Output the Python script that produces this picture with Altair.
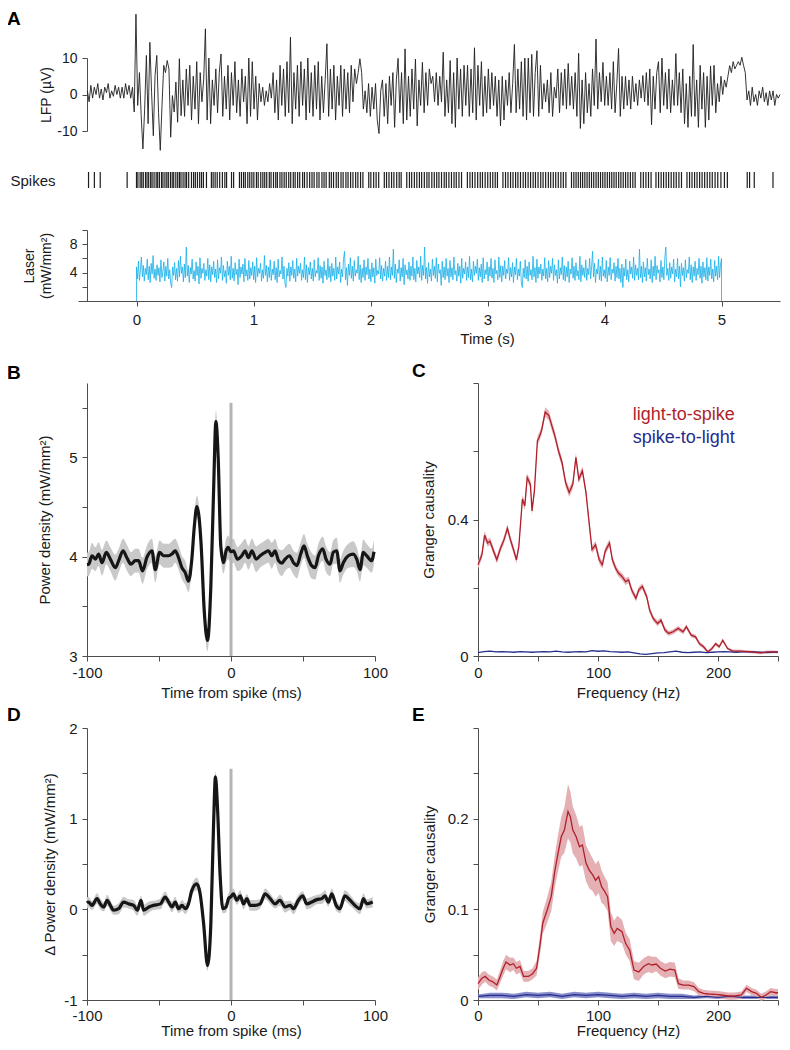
import altair as alt
import pandas as pd

# ---------------------------------------------------------------- data
# Panel A - LFP trace (µV), evenly sampled from -0.42 s to 5.5 s
LFP = [
    1, -2, 2.5, -1, 2, 0, 3, -1, 1.5, -1.5, 2, 0.5, 3, -1, 1, -0.5, 2.5, 0, 2, -1,
    2, -1, 3, 0, 2.5, -1, 2, -4.8, 22, -3, 6, -5.8, -14.9, -4, 10.7, -8, 14.3, 0.6, -11.3, 5.2,
    10.7, -5, -15.3, -3, 8, 6, 9.3, 7, -11.7, -0.3, -4.8, 3.4, -7.6, 9.8, -5.8, 4, -6, 7, -3, 8,
    -7, 5, -4, 9, -8, 6, -2, 4, 18, -7, 10, -8, 4, -3, 7, -5, 6, 11.1, -6, 5,
    -4, 8, -7, 6, -3, 9, -5, 4, -6, 7, -2, 5, -8, 10, -6, 9, -4, 5, -7, 3,
    -2, 2, -3, 1, -2, 3, -1, 6, -5, 4, -7, 8, -3, 7, -6, 9, -5, 15.7, -8, 6,
    -4, 8, -6, 9, -3, 7, -7, 10, -5, 6, -6, 8, -4, 9, -7, 5, -5, 4, 13.9, -6,
    7, -4, 8, -7, 5, -3, 8, -6, 7, -4, 6, -5, 8, -2, 7, 3, 6, 9.8, 6, -4,
    1, -5, 3, -6, 2, -4, 3, -7, -10.7, 1, 4, -6, 3, -8, 5, -3, 6, -9, 4, 9.9,
    -5, 6, -8, 12.5, -7, 5, -6, 7, -4, 9.7, -8.6, 4, -3, 8.8, -5, 6, -3, 7, 3, 5,
    -2, 6, -3, 5, -2, 11.6, -6, 4, -5, 9.3, -8, 6, -9, 10, -4, 7, -6, 8, -3, 8,
    -6, 7, -5, 12.8, -7, 8, -3, 9, -6, 5, -5, 7, -4, 6, -3, 5, -6, 4, -8.6, 5,
    -7, 4, -3, 6, -5, 3, 13.7, -5, 7, -4, 9, -6, 10, -7, 10, -5, 11, -6, 6, 12,
    -6, 8, -4, 3, -2, 4, -5, 6, -6, 2, -1, 7, -5, 6, -3, 7, -4, 8.5, -3, 5,
    -4, 6, -6, 11.3, -9.3, 4, -8, 6, -5, 3, -6, 7, -3, 15.2, -4, 6, -2, 8.8, -3, 5,
    -3, 6, -4, 9, -5, 3, 12.6, -6, 5, -4, 5, -3, 4, -4, 5, -2, 3, -3, 4, -1,
    5.2, -2, 6, -3, 7, -8.3, 5, -4, 6, 9, -5, 10, -3, 6, -4, 7, -5, 4, -3, 11.2,
    -3, 6, -5, 7, -8, 3, -9, 5, -6, 13.7, -6, 4, -9, 8, -4, 6, -9, 5, -7, 7.8,
    -3, 8, -5, 3, -2, 5, 0, 4, 2, 5, 7.9, 6, 9, 7, 8, 9, 8, 10.2, 8, 6,
    -1.5, 1, -3, 2, -2, 0, -3, 1, -1, 2, -2, 0.5, -3, 1, -1.5, 1, -3, 0, -1, 0,
]
LFP_START, LFP_END = -0.42, 5.5

# Panel A - spike times (s)
SPIKES = [
    -0.41, -0.36, -0.31, -0.08,
    0.000, 0.012, 0.031, 0.045, 0.058, 0.077, 0.090, 0.104, 0.121, 0.133, 0.150, 0.168,
    0.181, 0.196, 0.214, 0.226, 0.243, 0.259, 0.272, 0.290, 0.305, 0.318, 0.336, 0.352,
    0.367, 0.380, 0.398, 0.415, 0.428, 0.446, 0.470, 0.488, 0.503, 0.521, 0.540, 0.556,
    0.572, 0.598, 0.640, 0.655, 0.672, 0.690, 0.711, 0.734, 0.755, 0.770, 0.812, 0.830,
    0.880, 0.897, 0.915, 0.930, 0.951, 0.968, 0.986, 1.003, 1.025, 1.040, 1.062, 1.080,
    1.096, 1.113, 1.135, 1.150, 1.171, 1.190, 1.204, 1.226, 1.243, 1.262, 1.280, 1.301,
    1.318, 1.340, 1.356, 1.377, 1.395, 1.420, 1.436, 1.458, 1.480, 1.500, 1.518, 1.542,
    1.560, 1.585, 1.603, 1.621, 1.648, 1.665, 1.684, 1.707, 1.725, 1.748, 1.766, 1.790,
    1.808, 1.830, 1.850, 1.873, 1.892, 1.915, 1.935, 1.985, 2.003, 2.027, 2.048, 2.070,
    2.118, 2.137, 2.158, 2.180, 2.200, 2.224, 2.245, 2.262, 2.310, 2.333, 2.352, 2.375,
    2.396, 2.418, 2.437, 2.460, 2.482, 2.500, 2.524, 2.545, 2.566, 2.585, 2.607, 2.630,
    2.648, 2.670, 2.692, 2.714, 2.733, 2.756, 2.778, 2.828, 2.850, 2.871, 2.893, 2.916,
    2.938, 2.957, 2.980, 3.002, 3.024, 3.045, 3.066, 3.085, 3.132, 3.154, 3.175, 3.197,
    3.218, 3.240, 3.260, 3.282, 3.305, 3.325, 3.347, 3.368, 3.390, 3.410, 3.432, 3.455,
    3.475, 3.497, 3.520, 3.540, 3.562, 3.583, 3.605, 3.627, 3.648, 3.670, 3.718, 3.738,
    3.757, 3.776, 3.795, 3.813, 3.832, 3.851, 3.870, 3.889, 3.908, 3.928, 3.947, 3.966,
    3.985, 4.004, 4.024, 4.043, 4.062, 4.081, 4.100, 4.121, 4.140, 4.160, 4.180, 4.200,
    4.221, 4.242, 4.262, 4.310, 4.332, 4.354, 4.376, 4.398, 4.440, 4.462, 4.484, 4.505,
    4.527, 4.548, 4.570, 4.592, 4.613, 4.636, 4.658, 4.705, 4.727, 4.748, 4.770, 4.791,
    4.813, 4.834, 4.856, 4.878, 4.900, 4.921, 4.945, 4.968, 4.995, 5.025, 5.050,
    5.22, 5.24, 5.28, 5.44,
]

# Panel A - laser power density (mW/mm²), evenly sampled 0-5 s
LASER = [
    4.8, 3.1, 5.6, 2.9, 4.4, 6.2, 3.4, 5.0, 2.8, 4.6, 3.7, 5.9, 3.0, 4.9, 2.6, 5.3, 3.8, 6.4, 3.2, 4.5,
    2.9, 5.1, 3.6, 4.7, 2.7, 5.8, 3.3, 4.2, 5.5, 2.8, 4.9, 3.5, 6.0, 3.1, 4.4, 2.5, 1.9, 4.8, 3.6, 5.4,
    3.0, 4.6, 2.8, 5.7, 3.4, 6.3, 3.9, 4.8, 2.7, 5.2, 3.3, 7.6, 3.5, 5.0, 2.6, 4.7, 3.8, 5.9, 3.1, 4.3,
    2.8, 5.5, 3.6, 4.9, 2.4, 6.1, 3.2, 4.6, 3.9, 5.3, 2.9, 4.4, 3.5, 6.0, 3.0, 5.1, 2.7, 4.8, 3.7, 5.6,
    3.3, 4.5, 2.6, 5.8, 3.1, 4.7, 3.9, 6.2, 2.9, 5.0, 3.4, 4.3, 2.5, 5.6, 3.6, 4.9, 3.0, 6.3, 3.2, 4.6,
    2.8, 5.4, 3.7, 4.5, 2.3, 5.9, 3.3, 4.8, 3.8, 5.2, 2.7, 6.0, 3.5, 4.4, 2.9, 5.7, 3.1, 4.7, 3.6, 5.5,
    3.0, 4.9, 2.6, 6.1, 3.4, 4.6, 3.9, 5.3, 2.8, 4.4, 3.2, 6.4, 3.6, 5.0, 2.7, 4.8, 3.3, 5.8, 2.9, 4.5,
    3.7, 5.6, 3.0, 4.7, 2.6, 5.9, 3.4, 4.3, 3.8, 6.2, 3.1, 4.9, 2.5, 1.9, 4.6, 3.5, 5.4, 2.8, 4.8, 3.6,
    5.7, 3.2, 4.5, 2.7, 6.0, 3.5, 4.9, 3.9, 5.3, 2.9, 4.4, 3.3, 6.2, 3.0, 5.1, 2.6, 4.7, 3.7, 5.5, 3.1,
    4.6, 2.8, 5.8, 3.4, 4.3, 3.9, 6.1, 2.9, 5.0, 3.2, 4.8, 2.5, 5.6, 3.6, 4.4, 3.0, 6.0, 3.3, 4.9, 2.7,
    5.3, 3.5, 4.6, 2.9, 6.2, 3.1, 4.8, 3.8, 5.5, 2.6, 4.5, 3.4, 5.9, 7.0, 3.0, 4.7, 2.2, 5.2, 3.6, 6.1,
    3.2, 4.9, 2.8, 5.7, 3.5, 4.4, 3.9, 6.3, 3.0, 5.1, 2.6, 4.6, 3.3, 5.8, 2.9, 4.8, 3.7, 6.0, 3.1, 4.5,
    2.7, 5.4, 3.4, 4.7, 2.5, 5.9, 3.6, 4.3, 3.8, 6.1, 3.1, 5.0, 2.8, 4.6, 3.5, 5.6, 2.9, 4.9, 3.3, 6.2,
    3.0, 4.8, 3.6, 7.3, 3.2, 5.2, 2.6, 4.5, 3.9, 5.8, 2.8, 4.7, 3.4, 6.0, 2.3, 5.1, 3.7, 4.4, 3.1, 5.5,
    2.9, 4.9, 3.5, 6.2, 3.0, 4.6, 2.7, 5.7, 3.8, 4.8, 3.3, 6.3, 2.9, 5.0, 3.6, 7.6, 3.1, 4.7, 2.5, 5.4,
    3.4, 4.5, 2.8, 5.9, 3.6, 4.9, 3.2, 6.1, 2.7, 5.2, 3.9, 4.4, 2.2, 5.6, 3.3, 4.8, 3.0, 6.0, 3.5, 4.6,
    2.6, 5.7, 3.4, 4.7, 3.0, 6.2, 3.7, 4.3, 2.8, 5.3, 3.5, 4.9, 2.5, 6.0, 3.2, 4.6, 3.8, 5.5, 2.9, 4.8,
    3.3, 6.3, 3.0, 4.5, 2.7, 5.6, 3.6, 4.9, 3.9, 5.9, 2.9, 4.7, 3.4, 5.2, 2.6, 6.1, 3.1, 4.4, 3.7, 5.5,
    2.8, 4.8, 3.5, 6.0, 3.2, 4.6, 2.6, 5.8, 3.8, 4.3, 3.0, 6.2, 3.3, 5.0, 2.7, 4.9, 3.6, 5.7, 3.1, 4.5,
    3.9, 6.1, 2.9, 4.7, 3.4, 5.4, 2.6, 4.8, 3.7, 6.0, 3.0, 4.5, 3.5, 5.6, 2.7, 1.9, 4.6, 3.3, 5.8, 3.1,
    4.9, 2.8, 5.5, 3.6, 4.4, 3.0, 6.3, 3.4, 4.7, 2.6, 5.9, 3.2, 4.8, 3.8, 5.2, 2.9, 4.5, 3.5, 6.1, 3.1,
    4.6, 2.7, 5.7, 3.3, 4.9, 3.9, 6.0, 2.9, 5.1, 3.6, 4.4, 2.5, 5.8, 3.1, 4.7, 3.7, 6.2, 3.0, 5.0, 2.8,
    4.8, 3.4, 5.6, 2.6, 4.5, 3.8, 6.1, 3.2, 4.9, 2.9, 5.4, 3.5, 4.3, 3.0, 6.3, 2.7, 5.1, 3.6, 4.7, 3.3,
    5.8, 2.9, 4.6, 3.7, 6.0, 3.1, 4.8, 7.0, 3.4, 5.3, 2.6, 4.5, 3.8, 5.9, 3.0, 4.9, 2.8, 6.2, 3.5, 4.4,
    3.2, 5.7, 2.7, 4.8, 3.6, 6.1, 3.0, 4.5, 3.9, 5.4, 2.8, 4.9, 3.3, 6.0, 3.1, 4.6, 2.6, 5.2, 1.9, 4.7,
    3.5, 5.9, 3.0, 4.4, 2.7, 5.6, 3.8, 4.8, 3.2, 6.2, 2.9, 5.1, 3.6, 4.6, 3.0, 7.3, 3.3, 4.9, 2.6, 5.5,
    3.4, 4.7, 2.8, 6.0, 3.7, 4.5, 3.1, 5.8, 2.6, 4.9, 3.5, 6.3, 3.0, 5.0, 3.9, 4.4, 2.7, 5.7, 3.3, 4.8,
    3.0, 6.1, 7.6, 3.6, 4.6, 2.9, 5.4, 3.2, 4.8, 3.8, 5.9, 2.7, 4.5, 3.4, 6.0, 3.1, 4.9, 2.0, 5.3, 3.6,
    4.7, 2.8, 5.8, 3.3, 4.4, 3.9, 6.2, 3.0, 5.1, 2.6, 4.8, 3.5, 5.6, 2.9, 4.6, 3.7, 6.0, 3.2, 4.9, 2.5,
    5.5, 3.4, 4.7, 3.0, 6.1, 2.8, 4.8, 3.6, 5.9, 3.1, 4.5, 2.7, 5.7, 3.5, 4.9, 3.0, 6.3, 3.3, 5.2, 6.0,
]
LASER_END = 5.0

# Panel B - spike-triggered average of light power
B_T = [-100, -98.8, -96.5, -94.2, -91.9, -89.6, -86.6, -83.8, -80.3, -78,
       -75, -72.3, -69.5, -66.5, -64.2, -61.4, -58.4, -54.9, -52.6, -49.6,
       -46.8, -43.4, -41, -38.7, -36.4, -34.1, -31.8, -29.5, -27.2, -25.5,
       -23.7, -22.2, -20.7, -18.6, -16.3, -14, -12.1, -10.5, -8.9, -7.1,
       -5.2, -3.4, -2, 0, 1.7, 4.5, 7.5, 9.8, 12.1, 14.5,
       17.5, 20.2, 23.7, 26, 28.3, 30.6, 33, 35.3, 37.6, 40.6,
       43.4, 45.7, 48.4, 50.7, 53, 56, 58.4, 60.7, 63.7, 66,
       68.8, 71, 73.4, 75.7, 78, 81.5, 85, 87.3, 89.6, 91.9,
       94.2, 97.7, 99.3]
B_V = [3.92, 3.925, 4.01, 3.976, 4.027, 3.94, 4.044, 3.976, 3.89, 3.96,
       4.06, 3.99, 3.925, 3.96, 3.96, 3.857, 3.993, 4.06, 3.87, 4.044,
       4.01, 4.01, 4.027, 4.06, 3.99, 3.89, 3.84, 3.754, 3.976, 4.3,
       4.505, 4.4, 4.11, 3.46, 3.157, 3.70, 4.66, 5.36, 5.0, 4.11,
       3.94, 4.06, 4.095, 4.05, 4.06, 3.976, 4.01, 4.06, 3.99, 4.06,
       3.976, 4.01, 4.044, 4.06, 4.01, 4.06, 3.96, 3.935, 3.976, 4.01,
       3.94, 3.91, 4.027, 4.11, 4.01, 3.91, 3.89, 4.01, 4.08, 3.976,
       3.925, 4.044, 4.06, 3.857, 3.94, 4.01, 4.027, 3.976, 3.87, 4.044,
       4.01, 3.96, 4.05]
B_SEM = [0.12, 0.12, 0.13, 0.12, 0.12, 0.13, 0.12, 0.12, 0.13, 0.12,
         0.12, 0.13, 0.12, 0.12, 0.12, 0.13, 0.12, 0.12, 0.13, 0.12,
         0.12, 0.12, 0.13, 0.12, 0.12, 0.12, 0.12, 0.11, 0.11, 0.11,
         0.11, 0.11, 0.11, 0.11, 0.11, 0.11, 0.11, 0.11, 0.11, 0.11,
         0.11, 0.12, 0.12, 0.12, 0.12, 0.12, 0.13, 0.12, 0.12, 0.12,
         0.13, 0.12, 0.12, 0.12, 0.13, 0.12, 0.12, 0.13, 0.12, 0.12,
         0.12, 0.13, 0.12, 0.12, 0.12, 0.13, 0.12, 0.12, 0.12, 0.13,
         0.12, 0.12, 0.13, 0.12, 0.12, 0.12, 0.13, 0.12, 0.12, 0.13,
         0.12, 0.12, 0.12]

# Panel C - Granger causality, single example
C_F = [0, 3.3, 5.5, 8, 10, 13, 15.7, 18.4, 21.7, 24.5,
       27, 30, 32, 34, 37, 39, 41, 43.7, 45, 47,
       49.5, 51, 53, 56, 59, 61.5, 64, 67, 70, 73,
       76, 79, 81.6, 84, 87, 90, 92.6, 95, 98, 101,
       103.6, 106, 109.6, 112, 114.6, 117, 120, 123, 125.5, 128,
       131.6, 134, 137, 140.6, 143, 146, 149.7, 152.5, 155.8, 159,
       162.6, 166.8, 170.9, 173.6, 177.7, 181.3, 184.6, 188, 191.5, 195,
       198, 201, 204, 208, 212, 219, 227, 235.4, 241, 247, 250]
C_RED = [0.267, 0.297, 0.354, 0.331, 0.336, 0.307, 0.282, 0.312, 0.341, 0.374,
         0.341, 0.307, 0.282, 0.32, 0.46, 0.44, 0.523, 0.503, 0.425, 0.484,
         0.631, 0.641, 0.661, 0.715, 0.705, 0.675, 0.646, 0.602, 0.567, 0.508,
         0.479, 0.503, 0.582, 0.518, 0.543, 0.479, 0.39, 0.312, 0.326, 0.282,
         0.267, 0.307, 0.331, 0.282, 0.258, 0.243, 0.233, 0.218, 0.223, 0.194,
         0.169, 0.194, 0.204, 0.174, 0.135, 0.11, 0.095, 0.105, 0.076, 0.066,
         0.071, 0.081, 0.071, 0.086, 0.061, 0.056, 0.036, 0.027, 0.012, 0.022,
         0.036, 0.027, 0.046, 0.022, 0.015, 0.014, 0.012, 0.009, 0.012, 0.012, 0.011]
C_SEM = [0.012, 0.012, 0.012, 0.011, 0.011, 0.011, 0.011, 0.011, 0.011, 0.012,
         0.011, 0.011, 0.011, 0.011, 0.012, 0.012, 0.012, 0.012, 0.012, 0.012,
         0.013, 0.013, 0.013, 0.014, 0.014, 0.014, 0.013, 0.013, 0.013, 0.013,
         0.013, 0.013, 0.013, 0.012, 0.012, 0.012, 0.012, 0.011, 0.011, 0.011,
         0.011, 0.011, 0.011, 0.010, 0.010, 0.010, 0.010, 0.010, 0.010, 0.010,
         0.009, 0.009, 0.009, 0.009, 0.009, 0.008, 0.008, 0.008, 0.008, 0.007,
         0.007, 0.007, 0.007, 0.007, 0.006, 0.006, 0.006, 0.006, 0.005, 0.005,
         0.005, 0.005, 0.005, 0.004, 0.004, 0.004, 0.004, 0.004, 0.004, 0.004, 0.004]
C_BLUE_F = list(range(0, 251, 5))
C_BLUE = [0.010, 0.013, 0.014, 0.012, 0.013, 0.012, 0.011, 0.013, 0.012, 0.011,
          0.012, 0.013, 0.012, 0.014, 0.012, 0.011, 0.012, 0.013, 0.012, 0.016,
          0.014, 0.015, 0.013, 0.012, 0.011, 0.012, 0.009, 0.006, 0.005, 0.007,
          0.009, 0.010, 0.012, 0.014, 0.011, 0.010, 0.011, 0.012, 0.010, 0.011,
          0.012, 0.013, 0.012, 0.011, 0.012, 0.013, 0.012, 0.011, 0.010, 0.011, 0.012]

# Panel D - change in light power density
D_T = [-100, -99, -96.5, -93, -90.8, -88.4, -86, -83.8, -81.5, -78,
       -74.6, -71, -67.6, -65, -62.5, -60.7, -57, -53.8, -49, -45.7,
       -43.3, -41, -38.7, -36.4, -34, -31.8, -29.5, -27.2, -23.7, -21.4,
       -19, -16.3, -14, -12.1, -10.8, -9.4, -7.5, -5.7, -3.4, -1.7,
       0, 1.7, 4, 6.4, 8.7, 11, 13.3, 16.8, 20.2, 23.7,
       27.2, 30.6, 34, 37.6, 41, 43.4, 46.8, 49.8, 52.6, 56,
       59.5, 63, 65.3, 67.6, 70, 73, 75.7, 79, 82.7, 86,
       89.6, 92, 94.2, 98.4]
D_V = [0.07, 0.08, 0.044, 0.118, 0.06, 0.026, 0.1, 0.044, -0.01, 0.007,
       0.08, 0.06, 0.044, -0.01, 0.1, -0.01, 0.026, 0.044, 0.06, 0.136,
       0.08, 0.026, 0.08, 0.007, 0.044, 0.007, 0.06, 0.21, 0.28, 0.17,
       -0.16, -0.62, -0.16, 0.94, 1.46, 1.13, 0.36, 0.007, 0.026, 0.118,
       0.14, 0.17, 0.1, 0.15, 0.06, 0.118, 0.044, 0.044, 0.06, 0.17,
       0.118, 0.06, 0.1, 0.026, 0.044, 0.007, 0.1, 0.15, 0.06, 0.08,
       0.107, 0.118, 0.15, 0.08, 0.17, 0.044, 0.007, 0.15, 0.1, 0.044,
       0.007, 0.118, 0.06, 0.08]
D_SEM = [0.06, 0.06, 0.05, 0.06, 0.06, 0.05, 0.06, 0.06, 0.05, 0.06,
         0.06, 0.05, 0.06, 0.06, 0.05, 0.06, 0.06, 0.05, 0.06, 0.06,
         0.05, 0.06, 0.06, 0.05, 0.06, 0.06, 0.05, 0.06, 0.07, 0.07,
         0.06, 0.06, 0.06, 0.06, 0.06, 0.06, 0.06, 0.05, 0.06, 0.06,
         0.06, 0.06, 0.05, 0.06, 0.06, 0.05, 0.06, 0.06, 0.05, 0.06,
         0.06, 0.05, 0.06, 0.06, 0.05, 0.06, 0.06, 0.05, 0.06, 0.06,
         0.05, 0.06, 0.06, 0.05, 0.06, 0.06, 0.05, 0.06, 0.06, 0.05,
         0.06, 0.06, 0.05, 0.06]

# Panel E - Granger causality, population
E_F = [0, 3.3, 6, 9, 12.4, 15.7, 18.5, 21, 23.4, 26.7,
       29.5, 32, 35, 38, 42, 45.5, 48.8, 51.5, 54, 57.6,
       61, 64, 66.7, 69.4, 72, 75, 77, 79, 81.8, 84.6,
       87, 90, 92.8, 95.6, 98, 100.5, 103, 105, 108, 110.7,
       113.5, 116, 120, 123, 126.4, 130, 134, 138, 142, 145,
       148.5, 152, 156, 160, 164, 167, 171, 175.5, 180, 184,
       188, 192, 197.5, 203, 208.5, 214, 219.5, 223.7, 228, 232,
       236, 240, 244, 248, 250]
E_RED = [0.018, 0.024, 0.026, 0.022, 0.020, 0.0165, 0.026, 0.035, 0.042, 0.0386,
         0.040, 0.035, 0.037, 0.026, 0.026, 0.029, 0.035, 0.059, 0.085, 0.099,
         0.114, 0.142, 0.162, 0.18, 0.1875, 0.208, 0.202, 0.1875, 0.18, 0.169,
         0.171, 0.151, 0.143, 0.138, 0.132, 0.136, 0.125, 0.121, 0.114, 0.081,
         0.0735, 0.079, 0.0754, 0.0625, 0.055, 0.033, 0.031, 0.037, 0.040, 0.0386,
         0.0397, 0.035, 0.032, 0.034, 0.033, 0.018, 0.0165, 0.0165, 0.0147, 0.0092,
         0.0074, 0.0066, 0.0063, 0.0055, 0.0044, 0.0044, 0.0055, 0.0129, 0.0092, 0.0074,
         0.003, 0.0055, 0.0092, 0.008, 0.008]
E_SEM = [0.007, 0.007, 0.006, 0.006, 0.006, 0.006, 0.007, 0.008, 0.008, 0.008,
         0.007, 0.007, 0.007, 0.006, 0.006, 0.006, 0.008, 0.010, 0.012, 0.014,
         0.016, 0.018, 0.020, 0.022, 0.025, 0.030, 0.028, 0.026, 0.024, 0.022,
         0.022, 0.020, 0.020, 0.018, 0.018, 0.018, 0.018, 0.016, 0.016, 0.016,
         0.014, 0.014, 0.013, 0.012, 0.012, 0.010, 0.010, 0.009, 0.009, 0.009,
         0.008, 0.008, 0.008, 0.008, 0.008, 0.006, 0.005, 0.005, 0.005, 0.004,
         0.004, 0.004, 0.004, 0.004, 0.004, 0.004, 0.004, 0.004, 0.004, 0.004,
         0.004, 0.004, 0.004, 0.004, 0.004]
E_BLUE_F = list(range(0, 251, 10))
E_BLUE = [0.004, 0.005, 0.005, 0.004, 0.006, 0.005, 0.006, 0.004, 0.006, 0.005,
          0.006, 0.005, 0.004, 0.005, 0.004, 0.005, 0.004, 0.004, 0.003, 0.004,
          0.003, 0.004, 0.003, 0.003, 0.003, 0.003]
E_BLUE_SEM = [0.002, 0.003, 0.003, 0.003, 0.003, 0.003, 0.003, 0.003, 0.003, 0.003,
              0.003, 0.003, 0.003, 0.003, 0.003, 0.003, 0.003, 0.003, 0.002, 0.002,
              0.002, 0.002, 0.002, 0.002, 0.002, 0.002]

SERIES = ["light-to-spike", "spike-to-light"]
LETTERS = ["A", "B", "C", "D", "E"]

# ---------------------------------------------------------------- style
FONT = "Liberation Sans"
AXC = "#4d4d4d"
TXT = "#1a1a1a"
RED, RED_BAND = "#b01f2c", "#e4b0b4"
BLUE, BLUE_BAND = "#252d8c", "#8a8fcc"
LASER_C = "#16aee8"
GRAY_BAND, GRAY_RULE = "#c9c9c9", "#b4b4b4"
W, H = 774, 1034


def sc(domain, rng):
    return alt.Scale(domain=domain, range=rng, nice=False, zero=False)


def yax(values, expr, title, offset, pad, size=15, **kw):
    return alt.Axis(orient="left", values=values, labelExpr=expr, title=title,
                    offset=offset, titlePadding=pad, labelFontSize=size,
                    titleFontSize=size, labelPadding=5, **kw)


def xax(values, expr, title, offset, **kw):
    opts = dict(labelPadding=4, titlePadding=5, labelFontSize=15, titleFontSize=15)
    opts.update(kw)
    return alt.Axis(orient="bottom", values=values, labelExpr=expr, title=title,
                    offset=offset, **opts)


def band_df(xs, ys, sems):
    return pd.DataFrame({"x": xs, "v": ys,
                         "lo": [y - s for y, s in zip(ys, sems)],
                         "hi": [y + s for y, s in zip(ys, sems)],
                         "i": list(range(len(xs)))})


def band(df, color, sx, sy, interp="linear"):
    return alt.Chart(df).mark_area(color=color, interpolate=interp).encode(
        x=alt.X("x:Q", scale=sx, axis=None),
        y=alt.Y("lo:Q", scale=sy, axis=None),
        y2=alt.Y2("hi:Q"))


def letter(ch, x, y, sx, sy):
    return alt.Chart(pd.DataFrame({"label": [ch]})).mark_text(
        font=FONT, fontSize=19, fontWeight="bold", align="left", baseline="middle", color="#000"
    ).encode(x=alt.XDatum(x, scale=sx, axis=None), y=alt.YDatum(y, scale=sy, axis=None), text="label:N")


layers = []

# ---------------------------------------------------------------- panel A
sx_a = sc([-0.5, 5.5], [70, 772])
sy_lfp = sc([-10, 10], [123, 50])
n = len(LFP)
lfp_df = pd.DataFrame({"i": range(n),
                       "t": [LFP_START + k * (LFP_END - LFP_START) / (n - 1) for k in range(n)],
                       "v": LFP})
layers.append(
    alt.Chart(lfp_df).mark_line(color="#1f1f1f", strokeWidth=0.9).encode(
        x=alt.X("t:Q", scale=sx_a, axis=None),
        y=alt.Y("v:Q", scale=sy_lfp,
                axis=yax([-10, 0, 10], "toString(datum.value)", "LFP (µV)", -79, 3, size=14)),
        order="i:Q"))
layers.append(letter(LETTERS[0], -1.107, 20.7, sx_a, sy_lfp))

sy_spk = sc([0, 1], [180, 164])
spk_df = pd.DataFrame({"t": SPIKES, "lo": 0.0, "hi": 1.0})
layers.append(alt.Chart(spk_df).mark_rule(color="#1e1e1e", strokeWidth=1.2).encode(
    x=alt.X("t:Q", scale=sx_a, axis=None),
    y=alt.Y("lo:Q", scale=sy_spk,
            axis=alt.Axis(orient="left", offset=-79, domain=False, ticks=False, labels=False,
                          title="Spikes", titleAngle=0, titleAlign="left", titleBaseline="middle",
                          titleX=-77, titleY=172, titleFontSize=15)),
    y2="hi:Q"))

m = len(LASER)
las_t = [0.0] + [k * LASER_END / (m - 1) for k in range(m)] + [LASER_END]
las_v = [0.0] + LASER + [0.0]
las_df = pd.DataFrame({"i": range(len(las_t)), "t": las_t, "v": las_v})
layers.append(alt.Chart(las_df).mark_line(color=LASER_C, strokeWidth=0.8).encode(
    x=alt.X("t:Q", scale=sx_a,
            axis=xax([0, 1, 2, 3, 4, 5], "toString(datum.value)", "Time (s)", -741,
                     labelPadding=6, titlePadding=4, titleX=479)),
    y=alt.Y("v:Q", scale=sc([0, 10], [293, 222]),
            axis=yax([0, 2, 4, 6, 8, 10], "datum.value == 4 || datum.value == 8 ? toString(datum.value) : ''",
                     ["Laser", "(mW/mm²)"], -79, 16, size=14, titleLineHeight=17)),
    order="i:Q"))

# ---------------------------------------------------------------- panel B
sx_b = sc([-100, 100], [79, 367])
sy_b = sc([3, 5.75], [648, 375])
b_df = band_df(B_T, B_V, B_SEM)
layers.append(band(b_df, GRAY_BAND, sx_b, sy_b, "monotone"))
layers.append(alt.Chart(pd.DataFrame({"k": [0]})).mark_rule(color=GRAY_RULE, strokeWidth=3).encode(
    x=alt.XDatum(0, scale=sx_b, axis=None), y=alt.YDatum(3, scale=sy_b, axis=None),
    y2=alt.Y2Datum(5.55)))
layers.append(alt.Chart(b_df).mark_line(color="#161616", strokeWidth=3.2, interpolate="monotone").encode(
    x=alt.X("x:Q", scale=sx_b,
            axis=xax([-100, -50, 0, 50, 100], "datum.value % 100 == 0 ? toString(datum.value) : ''",
                     "Time from spike (ms)", -386)),
    y=alt.Y("v:Q", scale=sy_b,
            axis=yax([3, 3.5, 4, 4.5, 5, 5.5], "datum.value % 1 == 0 ? toString(datum.value) : ''",
                     "Power density (mW/mm²)", -79, 16)),
    order="i:Q"))
layers.append(letter(LETTERS[1], -155.6, 5.85, sx_b, sy_b))

# ---------------------------------------------------------------- panel C
sx_c = sc([0, 250], [470, 770])
sy_c = sc([0, 0.8], [648, 375])
c_df = band_df(C_F, C_RED, C_SEM)
cb_df = pd.DataFrame({"x": C_BLUE_F, "v": C_BLUE, "i": range(len(C_BLUE))})
layers.append(band(c_df, RED_BAND, sx_c, sy_c))
layers.append(alt.Chart(cb_df).mark_line(color=BLUE, strokeWidth=1.3).encode(
    x=alt.X("x:Q", scale=sx_c, axis=None), y=alt.Y("v:Q", scale=sy_c, axis=None), order="i:Q"))
layers.append(alt.Chart(c_df).mark_line(color=RED, strokeWidth=1.3).encode(
    x=alt.X("x:Q", scale=sx_c,
            axis=xax([0, 50, 100, 150, 200, 250], "datum.value % 100 == 0 ? toString(datum.value) : ''",
                     "Frequency (Hz)", -386)),
    y=alt.Y("v:Q", scale=sy_c,
            axis=yax([0, 0.2, 0.4, 0.6, 0.8], "datum.value == 0 || datum.value == 0.4 ? toString(datum.value) : ''",
                     "Granger causality", -470, 11)),
    order="i:Q"))
layers.append(alt.Chart(pd.DataFrame({"label": [SERIES[0]]})).mark_text(
    font=FONT, fontSize=18, align="left", baseline="middle", color=RED).encode(
    x=alt.XDatum(129, scale=sx_c, axis=None), y=alt.YDatum(0.705, scale=sy_c, axis=None), text="label:N"))
layers.append(alt.Chart(pd.DataFrame({"label": [SERIES[1]]})).mark_text(
    font=FONT, fontSize=18, align="left", baseline="middle", color=BLUE).encode(
    x=alt.XDatum(129, scale=sx_c, axis=None), y=alt.YDatum(0.639, scale=sy_c, axis=None), text="label:N"))
layers.append(letter(LETTERS[2], -55, 0.834, sx_c, sy_c))

# ---------------------------------------------------------------- panel D
sx_d = sc([-100, 100], [79, 367])
sy_d = sc([-1, 2], [992, 720])
d_df = band_df(D_T, D_V, D_SEM)
layers.append(band(d_df, GRAY_BAND, sx_d, sy_d, "monotone"))
layers.append(alt.Chart(pd.DataFrame({"k": [0]})).mark_rule(color=GRAY_RULE, strokeWidth=3).encode(
    x=alt.XDatum(0, scale=sx_d, axis=None), y=alt.YDatum(-1, scale=sy_d, axis=None),
    y2=alt.Y2Datum(1.55)))
layers.append(alt.Chart(d_df).mark_line(color="#161616", strokeWidth=3.2, interpolate="monotone").encode(
    x=alt.X("x:Q", scale=sx_d,
            axis=xax([-100, -50, 0, 50, 100], "datum.value % 100 == 0 ? toString(datum.value) : ''",
                     "Time from spike (ms)", -42, labelPadding=3, titlePadding=0)),
    y=alt.Y("v:Q", scale=sy_d,
            axis=yax([-1, -0.5, 0, 0.5, 1, 1.5, 2], "datum.value % 1 == 0 ? toString(datum.value) : ''",
                     "Δ Power density (mW/mm²)", -79, 6)),
    order="i:Q"))
layers.append(letter(LETTERS[3], -155.6, 2.143, sx_d, sy_d))

# ---------------------------------------------------------------- panel E
sx_e = sc([0, 250], [470, 770])
sy_e = sc([0, 0.3], [992, 720])
e_df = band_df(E_F, E_RED, E_SEM)
eb_df = band_df(E_BLUE_F, E_BLUE, E_BLUE_SEM)
layers.append(band(eb_df, BLUE_BAND, sx_e, sy_e))
layers.append(band(e_df, RED_BAND, sx_e, sy_e))
layers.append(alt.Chart(eb_df).mark_line(color=BLUE, strokeWidth=1.2).encode(
    x=alt.X("x:Q", scale=sx_e, axis=None), y=alt.Y("v:Q", scale=sy_e, axis=None), order="i:Q"))
layers.append(alt.Chart(e_df).mark_line(color=RED, strokeWidth=1.3).encode(
    x=alt.X("x:Q", scale=sx_e,
            axis=xax([0, 50, 100, 150, 200, 250], "datum.value % 100 == 0 ? toString(datum.value) : ''",
                     "Frequency (Hz)", -42, labelPadding=3, titlePadding=0)),
    y=alt.Y("v:Q", scale=sy_e,
            axis=yax([0, 0.05, 0.1, 0.15, 0.2, 0.25, 0.3],
                     "datum.value == 0 || datum.value == 0.1 || datum.value == 0.2 ? toString(datum.value) : ''",
                     "Granger causality", -470, 10)),
    order="i:Q"))
layers.append(letter(LETTERS[4], -55, 0.3143, sx_e, sy_e))

chart = alt.layer(*layers).resolve_scale(
    x="independent", y="independent"
).resolve_axis(
    x="independent", y="independent"
).properties(
    width=W, height=H, padding=0, autosize=alt.AutoSizeParams(type="none")
).configure_view(stroke=None).configure_axis(
    grid=False, domainColor=AXC, tickColor=AXC, labelColor=TXT, titleColor=TXT,
    labelFont=FONT, titleFont=FONT, titleFontWeight="normal", tickSize=5,
    domainWidth=1, tickWidth=1, labelFlush=False, labelOverlap=False, labelBound=False,
).configure_text(font=FONT)

chart.save("out.html", embed_options={"renderer": "svg", "actions": False})
